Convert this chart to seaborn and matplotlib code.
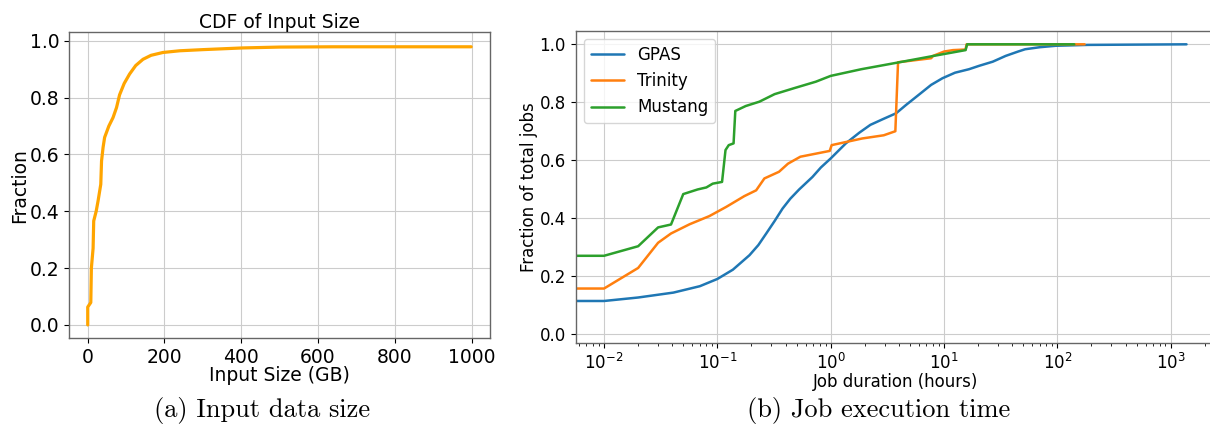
import numpy as np
import pandas as pd
import matplotlib
matplotlib.use("Agg")
import matplotlib.pyplot as plt
import seaborn as sns

# (a) CDF of input size
input_gb = [0, 0, 8, 9.5, 14, 15.6, 22, 27, 34, 36, 40, 44, 55, 66, 75, 83, 95, 109, 125, 144,
            165, 196, 240, 300, 404, 500, 640, 999]
input_frac = [0.0, 0.063, 0.079, 0.20, 0.27, 0.366, 0.40, 0.437, 0.495, 0.577, 0.625, 0.66, 0.70,
              0.73, 0.765, 0.81, 0.85, 0.883, 0.913, 0.935, 0.949, 0.959, 0.965, 0.969, 0.975,
              0.978, 0.979, 0.979]

# (b) CDF of job duration (hours)
systems = ["GPAS", "Trinity", "Mustang"]
gpas_hours = [0.004, 0.01, 0.02, 0.041, 0.07, 0.1, 0.137, 0.192, 0.23, 0.27, 0.32, 0.376, 0.44,
              0.527, 0.69, 0.82, 1.0, 1.36, 1.79, 2.24, 2.9, 3.78, 4.6, 6.0, 7.7, 9.7, 12.5, 16.6,
              20.5, 26.9, 35, 45, 52, 70, 97, 186, 1380]
gpas_frac = [0.114, 0.114, 0.126, 0.143, 0.165, 0.19, 0.222, 0.272, 0.307, 0.347, 0.39, 0.433, 0.467,
             0.499, 0.542, 0.575, 0.606, 0.658, 0.695, 0.722, 0.742, 0.762, 0.79, 0.826, 0.86, 0.883,
             0.902, 0.914, 0.926, 0.94, 0.96, 0.975, 0.983, 0.99, 0.995, 0.998, 1.0]
trinity_hours = [0.004, 0.01, 0.02, 0.03, 0.039, 0.057, 0.085, 0.12, 0.173, 0.22, 0.26, 0.35, 0.42,
                 0.54, 0.98, 1.02, 1.9, 2.94, 3.72, 3.93, 7.7, 8.0, 10.0, 12.0, 15.5, 15.8, 174]
trinity_frac = [0.157, 0.157, 0.228, 0.315, 0.347, 0.379, 0.407, 0.439, 0.476, 0.496, 0.537, 0.56, 0.588,
                0.612, 0.632, 0.652, 0.675, 0.686, 0.70, 0.938, 0.952, 0.96, 0.975, 0.98, 0.982, 1.0, 1.0]
mustang_hours = [0.004, 0.01, 0.02, 0.03, 0.039, 0.05, 0.067, 0.08, 0.091, 0.11, 0.118, 0.126, 0.139,
                 0.144, 0.178, 0.235, 0.32, 0.47, 0.74, 1.0, 1.86, 3.9, 8.1, 15.5, 16.0, 141]
mustang_frac = [0.27, 0.27, 0.303, 0.368, 0.378, 0.483, 0.499, 0.506, 0.519, 0.525, 0.635, 0.652, 0.658,
                0.77, 0.787, 0.802, 0.828, 0.848, 0.871, 0.891, 0.914, 0.937, 0.96, 0.98, 1.0, 1.0]

df_input = pd.DataFrame({"size": input_gb, "frac": input_frac})
df_jobs = pd.concat([
    pd.DataFrame({"hours": gpas_hours, "frac": gpas_frac, "system": "GPAS"}),
    pd.DataFrame({"hours": trinity_hours, "frac": trinity_frac, "system": "Trinity"}),
    pd.DataFrame({"hours": mustang_hours, "frac": mustang_frac, "system": "Mustang"}),
], ignore_index=True)

sns.set_style("ticks", {"axes.grid": True, "grid.color": "#cccccc", "axes.edgecolor": "#666666"})
plt.rcParams["font.family"] = ["DejaVu Sans"]
plt.rcParams.update({"text.color": "black", "axes.labelcolor": "black",
                     "xtick.color": "black", "ytick.color": "black"})

W, H = 1210, 425
fig = plt.figure(figsize=(W / 100, H / 100), dpi=100)

# left panel
ax1 = fig.add_axes([69.3 / W, (H - 338.3) / H, (490 - 69.3) / W, (338.3 - 32.3) / H])
sns.lineplot(data=df_input, x="size", y="frac", color="orange", linewidth=2.3,
             estimator=None, sort=False, ax=ax1)
ax1.set_xlim(-48, 1048)
ax1.set_ylim(-0.047, 1.03)
ax1.set_xticks([0, 200, 400, 600, 800, 1000])
ax1.set_yticks([0.0, 0.2, 0.4, 0.6, 0.8, 1.0])
ax1.set_title("CDF of Input Size", fontsize=13.5, pad=3)
ax1.set_xlabel("Input Size (GB)", fontsize=13.5, labelpad=-1)
ax1.set_ylabel("Fraction", fontsize=13.5, labelpad=0.5)
ax1.tick_params(labelsize=13.5, length=3.5)

# right panel
ax2 = fig.add_axes([575.7 / W, (H - 342.7) / H, (1216 - 575.7) / W, (342.7 - 30.7) / H])
sns.lineplot(data=df_jobs, x="hours", y="frac", hue="system", hue_order=systems,
             palette=["#1f77b4", "#ff7f0e", "#2ca02c"], linewidth=1.8,
             estimator=None, sort=False, ax=ax2)
ax2.set_xscale("log")
ax2.set_xlim(10 ** -2.25, 10 ** 3.4)
ax2.set_ylim(-0.03, 1.047)
ax2.set_yticks([0.0, 0.2, 0.4, 0.6, 0.8, 1.0])
ax2.grid(True, which="major")
ax2.grid(False, which="minor")
ax2.set_xlabel("Job duration (hours)", fontsize=12, labelpad=0)
ax2.set_ylabel("Fraction of total jobs", fontsize=12, labelpad=1)
ax2.tick_params(labelsize=12, length=3.5)
ax2.tick_params(which="minor", length=2)
leg = ax2.legend(loc="upper left", fontsize=12, frameon=True)
leg.set_title(None)

for ax in (ax1, ax2):
    for s in ax.spines.values():
        s.set_linewidth(1.0)

# captions
fig.text(262 / W, 1 - 410 / H, "(a) Input data size", family="cmr10", fontsize=19,
         ha="center", va="center")
fig.text(879 / W, 1 - 410 / H, "(b) Job execution time", family="cmr10", fontsize=19,
         ha="center", va="center")

fig.savefig("out.png", dpi=100)
